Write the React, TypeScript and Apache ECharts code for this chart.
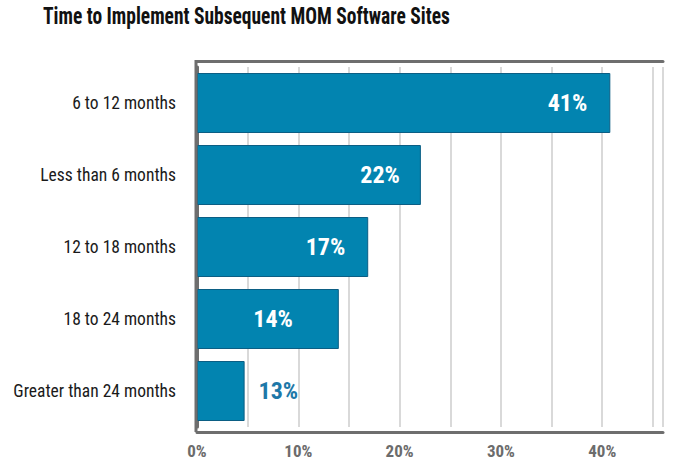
import React, { useEffect, useRef } from "react";
import * as echarts from "echarts";

const categories = [
  "6 to 12 months",
  "Less than 6 months",
  "12 to 18 months",
  "18 to 24 months",
  "Greater than 24 months",
];
// bar lengths as drawn in the picture (percent)
const barValues = [40.8, 22.1, 16.9, 14.0, 4.7];
// value labels as printed on the picture
const valueLabels = ["41%", "22%", "17%", "14%", "13%"];
const xTicks = [0, 10, 20, 30, 40];
const titleText = "Time to Implement Subsequent MOM Software Sites";

const FONT = '"Liberation Sans Narrow", "Roboto Condensed", "DejaVu Sans Condensed", "Arial Narrow", sans-serif';

export default function App() {
  const ref = useRef<HTMLDivElement>(null);
  useEffect(() => {
    if (!ref.current) return;
    const chart = echarts.init(ref.current, undefined, { renderer: "svg" });
    const labelCfg = [
      { position: "insideRight", distance: 23, color: "#ffffff" },
      { position: "insideRight", distance: 21, color: "#ffffff" },
      { position: "insideRight", distance: 23, color: "#ffffff" },
      { position: "insideRight", distance: 46, color: "#ffffff" },
      { position: "right", distance: 14, color: "#1d78a8" },
    ];
    chart.setOption({
      animation: false,
      backgroundColor: "#ffffff",
      grid: { left: 197, right: 11, top: 67, bottom: 36, containLabel: false },
      xAxis: [
        {
          type: "value",
          min: 0,
          max: 46,
          interval: 5,
          offset: 5,
          axisLine: { show: true, lineStyle: { color: "#6e6e6e", width: 3 } },
          axisTick: { show: false },
          splitLine: { show: true, lineStyle: { color: "#d9d9d9", width: 2 } },
          axisLabel: {
            margin: 10,
            fontFamily: FONT,
            fontSize: 17,
            fontWeight: "bold",
            color: "#6c6c6c",
            showMaxLabel: false,
            formatter: (v: number) => (xTicks.includes(v) ? v + "%" : ""),
          },
        },
        {
          type: "value",
          position: "top",
          min: 0,
          max: 46,
          offset: 6,
          axisLine: { show: true, lineStyle: { color: "#6e6e6e", width: 3 } },
          axisTick: { show: false },
          axisLabel: { show: false },
          splitLine: { show: false },
        },
      ],
      yAxis: {
        type: "category",
        inverse: true,
        data: categories,
        axisLine: { show: true, lineStyle: { color: "#6e6e6e", width: 3 } },
        axisTick: { show: false },
        axisLabel: {
          margin: 21,
          fontFamily: FONT,
          fontSize: 17.5,
          color: "#1a1a1a",
        },
      },
      graphic: [
        {
          type: "text",
          x: 43,
          y: 3,
          scaleX: 0.795,
          style: {
            text: titleText,
            fontFamily: FONT,
            fontWeight: "bold",
            fontSize: 24.5,
            fill: "#111111",
          },
        },
        {
          type: "line",
          shape: { x1: 196, y1: 60, x2: 196, y2: 432 },
          style: { stroke: "#6e6e6e", lineWidth: 3 },
          z: 100,
        },
      ],
      series: [
        {
          type: "bar",
          xAxisIndex: 0,
          barWidth: 60,
          data: barValues.map((v, i) => ({
            value: v,
            label: {
              show: true,
              position: labelCfg[i].position,
              distance: labelCfg[i].distance,
              color: labelCfg[i].color,
              formatter: valueLabels[i],
              fontFamily: FONT,
              fontWeight: "bold",
              fontSize: 24,
            },
          })),
          itemStyle: { color: "#0284b0", borderColor: "#0b5e84", borderWidth: 1 },
        },
      ],
    });
    return () => chart.dispose();
  }, []);
  return <div ref={ref} style={{ width: 674, height: 463, position: "absolute", left: 0, top: 0 }} />;
}
